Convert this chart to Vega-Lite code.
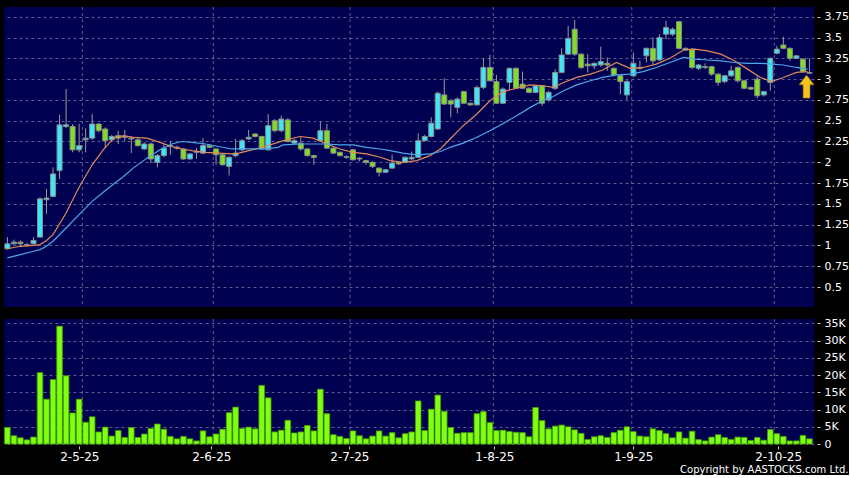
{
  "$schema": "https://vega.github.io/schema/vega-lite/v6.json",
  "background": "#000000",
  "padding": {"left": 4, "top": 6, "right": 0, "bottom": 0},
  "spacing": 9,
  "title": {"text": "Copyright by AASTOCKS.com Ltd.", "orient": "bottom", "anchor": "end", "font": "DejaVu Sans", "fontSize": 10, "fontWeight": "normal", "color": "#ffffff", "offset": 3},
  "config": {
    "view": {"fill": "#000050", "stroke": null},
    "axis": {"gridColor": "#7a7aa8", "gridDash": [3, 3], "gridOpacity": 0.75, "labelColor": "#ffffff", "labelFont": "DejaVu Sans", "tickColor": "#c8c8c8", "domain": false, "title": null}
  },
  "datasets": {
    "bars": [
      {"i":1,"o":0.96,"h":1.10,"l":0.95,"c":1.02,"v":4800},
      {"i":2,"o":1.02,"h":1.07,"l":1.01,"c":1.04,"v":2400},
      {"i":3,"o":1.04,"h":1.06,"l":1.00,"c":1.02,"v":1800},
      {"i":4,"o":1.01,"h":1.03,"l":0.99,"c":1.00,"v":1200},
      {"i":5,"o":1.02,"h":1.10,"l":1.01,"c":1.06,"v":2000},
      {"i":6,"o":1.10,"h":1.58,"l":1.10,"c":1.56,"v":20700},
      {"i":7,"o":1.55,"h":1.68,"l":1.38,"c":1.57,"v":13000},
      {"i":8,"o":1.59,"h":1.94,"l":1.58,"c":1.86,"v":18700},
      {"i":9,"o":1.90,"h":2.57,"l":1.80,"c":2.45,"v":34200},
      {"i":10,"o":2.43,"h":2.88,"l":2.41,"c":2.45,"v":19800},
      {"i":11,"o":2.43,"h":2.46,"l":2.12,"c":2.15,"v":9000},
      {"i":12,"o":2.15,"h":2.46,"l":2.12,"c":2.20,"v":13000},
      {"i":13,"o":2.27,"h":2.41,"l":2.12,"c":2.29,"v":6300},
      {"i":14,"o":2.29,"h":2.58,"l":2.27,"c":2.46,"v":7900},
      {"i":15,"o":2.46,"h":2.47,"l":2.36,"c":2.38,"v":3500},
      {"i":16,"o":2.40,"h":2.42,"l":2.17,"c":2.26,"v":4900},
      {"i":17,"o":2.27,"h":2.33,"l":2.25,"c":2.31,"v":2300},
      {"i":18,"o":2.32,"h":2.38,"l":2.22,"c":2.29,"v":3900},
      {"i":19,"o":2.31,"h":2.39,"l":2.25,"c":2.30,"v":1900},
      {"i":20,"o":2.29,"h":2.31,"l":2.11,"c":2.28,"v":4800},
      {"i":21,"o":2.27,"h":2.29,"l":2.19,"c":2.20,"v":1900},
      {"i":22,"o":2.16,"h":2.24,"l":2.15,"c":2.22,"v":2900},
      {"i":23,"o":2.22,"h":2.24,"l":1.99,"c":2.04,"v":4500},
      {"i":24,"o":2.00,"h":2.10,"l":1.94,"c":2.08,"v":5800},
      {"i":25,"o":2.08,"h":2.22,"l":2.06,"c":2.17,"v":4300},
      {"i":26,"o":2.19,"h":2.25,"l":2.09,"c":2.20,"v":2200},
      {"i":27,"o":2.18,"h":2.20,"l":2.15,"c":2.17,"v":1500},
      {"i":28,"o":2.16,"h":2.17,"l":2.03,"c":2.04,"v":2200},
      {"i":29,"o":2.04,"h":2.11,"l":2.03,"c":2.10,"v":1500},
      {"i":30,"o":2.12,"h":2.17,"l":2.04,"c":2.13,"v":900},
      {"i":31,"o":2.11,"h":2.29,"l":2.10,"c":2.20,"v":3800},
      {"i":32,"o":2.20,"h":2.22,"l":2.17,"c":2.18,"v":2100},
      {"i":33,"o":2.16,"h":2.17,"l":1.97,"c":2.09,"v":2900},
      {"i":34,"o":2.09,"h":2.10,"l":1.96,"c":1.97,"v":4300},
      {"i":35,"o":1.95,"h":2.07,"l":1.84,"c":2.06,"v":9100},
      {"i":36,"o":2.08,"h":2.28,"l":2.06,"c":2.11,"v":10700},
      {"i":37,"o":2.15,"h":2.28,"l":2.13,"c":2.26,"v":4500},
      {"i":38,"o":2.28,"h":2.39,"l":2.27,"c":2.30,"v":4900},
      {"i":39,"o":2.34,"h":2.35,"l":2.30,"c":2.31,"v":4400},
      {"i":40,"o":2.31,"h":2.32,"l":2.15,"c":2.16,"v":17000},
      {"i":41,"o":2.15,"h":2.58,"l":2.14,"c":2.44,"v":13400},
      {"i":42,"o":2.50,"h":2.52,"l":2.36,"c":2.38,"v":3500},
      {"i":43,"o":2.38,"h":2.56,"l":2.36,"c":2.52,"v":4000},
      {"i":44,"o":2.51,"h":2.53,"l":2.24,"c":2.25,"v":6900},
      {"i":45,"o":2.23,"h":2.28,"l":2.22,"c":2.26,"v":3200},
      {"i":46,"o":2.23,"h":2.30,"l":2.14,"c":2.16,"v":3500},
      {"i":47,"o":2.16,"h":2.17,"l":2.07,"c":2.08,"v":5400},
      {"i":48,"o":2.08,"h":2.09,"l":1.97,"c":2.06,"v":3800},
      {"i":49,"o":2.26,"h":2.49,"l":2.25,"c":2.38,"v":15900},
      {"i":50,"o":2.38,"h":2.46,"l":2.16,"c":2.17,"v":8800},
      {"i":51,"o":2.17,"h":2.18,"l":2.10,"c":2.11,"v":2700},
      {"i":52,"o":2.12,"h":2.13,"l":2.07,"c":2.08,"v":2200},
      {"i":53,"o":2.07,"h":2.08,"l":2.04,"c":2.06,"v":1600},
      {"i":54,"o":2.15,"h":2.16,"l":2.02,"c":2.03,"v":3800},
      {"i":55,"o":2.05,"h":2.06,"l":2.01,"c":2.04,"v":2400},
      {"i":56,"o":2.02,"h":2.03,"l":1.97,"c":2.00,"v":1500},
      {"i":57,"o":2.00,"h":2.01,"l":1.93,"c":1.95,"v":2300},
      {"i":58,"o":1.93,"h":1.94,"l":1.83,"c":1.88,"v":3800},
      {"i":59,"o":1.88,"h":1.92,"l":1.87,"c":1.91,"v":2300},
      {"i":60,"o":1.93,"h":2.09,"l":1.92,"c":1.99,"v":3300},
      {"i":61,"o":2.00,"h":2.01,"l":1.97,"c":1.98,"v":1800},
      {"i":62,"o":2.00,"h":2.07,"l":1.99,"c":2.06,"v":3000},
      {"i":63,"o":2.04,"h":2.13,"l":2.03,"c":2.06,"v":3500},
      {"i":64,"o":2.06,"h":2.35,"l":2.05,"c":2.26,"v":12500},
      {"i":65,"o":2.26,"h":2.33,"l":2.25,"c":2.31,"v":3900},
      {"i":66,"o":2.31,"h":2.54,"l":2.30,"c":2.47,"v":10100},
      {"i":67,"o":2.40,"h":2.85,"l":2.39,"c":2.83,"v":14200},
      {"i":68,"o":2.81,"h":3.01,"l":2.69,"c":2.70,"v":9500},
      {"i":69,"o":2.74,"h":2.76,"l":2.54,"c":2.70,"v":4800},
      {"i":70,"o":2.66,"h":2.78,"l":2.59,"c":2.76,"v":3100},
      {"i":71,"o":2.85,"h":2.86,"l":2.70,"c":2.71,"v":3300},
      {"i":72,"o":2.71,"h":2.72,"l":2.68,"c":2.69,"v":3300},
      {"i":73,"o":2.69,"h":2.92,"l":2.68,"c":2.90,"v":8800},
      {"i":74,"o":2.90,"h":3.25,"l":2.88,"c":3.14,"v":9400},
      {"i":75,"o":3.14,"h":3.29,"l":2.97,"c":2.98,"v":6200},
      {"i":76,"o":2.97,"h":3.05,"l":2.70,"c":2.71,"v":3900},
      {"i":77,"o":2.71,"h":2.90,"l":2.70,"c":2.88,"v":4000},
      {"i":78,"o":2.96,"h":3.14,"l":2.87,"c":3.13,"v":3600},
      {"i":79,"o":3.13,"h":3.14,"l":2.88,"c":2.89,"v":3400},
      {"i":80,"o":2.94,"h":3.09,"l":2.88,"c":2.89,"v":3300},
      {"i":81,"o":2.89,"h":2.90,"l":2.83,"c":2.84,"v":2100},
      {"i":82,"o":2.84,"h":2.93,"l":2.83,"c":2.92,"v":10600},
      {"i":83,"o":2.92,"h":2.93,"l":2.68,"c":2.71,"v":6800},
      {"i":84,"o":2.75,"h":2.86,"l":2.73,"c":2.84,"v":4400},
      {"i":85,"o":2.89,"h":3.12,"l":2.87,"c":3.08,"v":5200},
      {"i":86,"o":3.08,"h":3.37,"l":3.07,"c":3.29,"v":5500},
      {"i":87,"o":3.30,"h":3.64,"l":3.29,"c":3.49,"v":5000},
      {"i":88,"o":3.60,"h":3.71,"l":3.28,"c":3.30,"v":4100},
      {"i":89,"o":3.30,"h":3.31,"l":3.12,"c":3.14,"v":3100},
      {"i":90,"o":3.18,"h":3.30,"l":3.08,"c":3.16,"v":1300},
      {"i":91,"o":3.16,"h":3.20,"l":3.12,"c":3.19,"v":2100},
      {"i":92,"o":3.17,"h":3.39,"l":3.15,"c":3.21,"v":2400},
      {"i":93,"o":3.19,"h":3.26,"l":3.10,"c":3.17,"v":1900},
      {"i":94,"o":3.13,"h":3.14,"l":3.03,"c":3.05,"v":3300},
      {"i":95,"o":3.04,"h":3.05,"l":2.82,"c":2.97,"v":4000},
      {"i":96,"o":2.81,"h":2.99,"l":2.75,"c":2.97,"v":5000},
      {"i":97,"o":3.04,"h":3.32,"l":3.02,"c":3.19,"v":3600},
      {"i":98,"o":3.13,"h":3.22,"l":3.11,"c":3.14,"v":2300},
      {"i":99,"o":3.28,"h":3.38,"l":3.20,"c":3.37,"v":2100},
      {"i":100,"o":3.37,"h":3.50,"l":3.18,"c":3.22,"v":4400},
      {"i":101,"o":3.23,"h":3.54,"l":3.22,"c":3.50,"v":3900},
      {"i":102,"o":3.54,"h":3.70,"l":3.48,"c":3.62,"v":3000},
      {"i":103,"o":3.54,"h":3.62,"l":3.52,"c":3.60,"v":1800},
      {"i":104,"o":3.69,"h":3.70,"l":3.36,"c":3.37,"v":3500},
      {"i":105,"o":3.35,"h":3.38,"l":3.34,"c":3.37,"v":1700},
      {"i":106,"o":3.36,"h":3.37,"l":3.12,"c":3.14,"v":3700},
      {"i":107,"o":3.13,"h":3.18,"l":3.11,"c":3.17,"v":1300},
      {"i":108,"o":3.15,"h":3.19,"l":3.12,"c":3.14,"v":900},
      {"i":109,"o":3.15,"h":3.16,"l":3.04,"c":3.06,"v":2000},
      {"i":110,"o":3.06,"h":3.07,"l":2.92,"c":2.96,"v":2700},
      {"i":111,"o":2.97,"h":3.05,"l":2.95,"c":3.04,"v":1900},
      {"i":112,"o":3.04,"h":3.16,"l":3.03,"c":3.10,"v":1300},
      {"i":113,"o":3.14,"h":3.15,"l":2.96,"c":2.98,"v":2000},
      {"i":114,"o":2.98,"h":2.99,"l":2.88,"c":2.89,"v":1900},
      {"i":115,"o":2.90,"h":2.91,"l":2.87,"c":2.88,"v":1000},
      {"i":116,"o":3.00,"h":3.04,"l":2.77,"c":2.80,"v":1900},
      {"i":117,"o":2.81,"h":2.86,"l":2.79,"c":2.85,"v":1100},
      {"i":118,"o":2.96,"h":3.26,"l":2.86,"c":3.25,"v":4200},
      {"i":119,"o":3.31,"h":3.40,"l":3.30,"c":3.36,"v":3000},
      {"i":120,"o":3.41,"h":3.51,"l":3.36,"c":3.37,"v":2200},
      {"i":121,"o":3.37,"h":3.38,"l":3.22,"c":3.25,"v":900},
      {"i":122,"o":3.25,"h":3.29,"l":3.24,"c":3.28,"v":900},
      {"i":123,"o":3.24,"h":3.25,"l":3.08,"c":3.09,"v":2500},
      {"i":124,"o":3.08,"h":3.25,"l":3.07,"c":3.07,"v":1500}
    ],
    "ma": [
      {"i":1,"a":0.96,"b":0.85},{"i":3,"a":0.99,"b":0.89},{"i":5,"a":1.00,"b":0.93},{"i":6,"a":1.01,"b":0.95},
      {"i":7,"a":1.06,"b":0.99},{"i":8,"a":1.13,"b":1.05},{"i":10,"a":1.39,"b":1.21},{"i":12,"a":1.70,"b":1.37},
      {"i":14,"a":1.97,"b":1.53},{"i":15.7,"a":2.15,"b":1.64},{"i":17.3,"a":2.29,"b":1.74},{"i":18.8,"a":2.32,"b":1.83},
      {"i":20.3,"a":2.30,"b":1.93},{"i":22.4,"a":2.29,"b":2.05},{"i":24.4,"a":2.24,"b":2.15},{"i":26.2,"a":2.19,"b":2.22},
      {"i":27.8,"a":2.16,"b":2.25},{"i":29.3,"a":2.14,"b":2.24},{"i":31.4,"a":2.12,"b":2.22},{"i":33.4,"a":2.11,"b":2.19},
      {"i":35.4,"a":2.10,"b":2.16},{"i":36.5,"a":2.11,"b":2.16},{"i":38.5,"a":2.15,"b":2.16},{"i":40.5,"a":2.19,"b":2.16},
      {"i":42.5,"a":2.24,"b":2.18},{"i":43.3,"a":2.26,"b":2.21},{"i":45.9,"a":2.31,"b":2.22},{"i":47.9,"a":2.29,"b":2.22},
      {"i":50,"a":2.22,"b":2.22},{"i":52,"a":2.16,"b":2.21},{"i":54,"a":2.12,"b":2.21},{"i":56.1,"a":2.10,"b":2.18},
      {"i":58.2,"a":2.06,"b":2.16},{"i":59.7,"a":2.02,"b":2.14},{"i":61.7,"a":2.00,"b":2.11},{"i":63.8,"a":2.02,"b":2.09},
      {"i":65.8,"a":2.08,"b":2.10},{"i":67.4,"a":2.16,"b":2.13},{"i":68.9,"a":2.28,"b":2.18},{"i":70.9,"a":2.44,"b":2.23},
      {"i":73,"a":2.58,"b":2.30},{"i":75,"a":2.74,"b":2.38},{"i":77.1,"a":2.85,"b":2.47},{"i":79.1,"a":2.89,"b":2.56},
      {"i":81.2,"a":2.93,"b":2.66},{"i":83.2,"a":2.92,"b":2.745},{"i":84.7,"a":2.90,"b":2.79},{"i":86.3,"a":2.96,"b":2.86},
      {"i":88.3,"a":3.02,"b":2.93},{"i":90.4,"a":3.06,"b":2.98},{"i":92.3,"a":3.11,"b":3.02},{"i":94.4,"a":3.20,"b":3.05},
      {"i":96.5,"a":3.13,"b":3.06},{"i":98.5,"a":3.14,"b":3.09},{"i":100.5,"a":3.18,"b":3.14},{"i":102.6,"a":3.25,"b":3.20},
      {"i":104.7,"a":3.35,"b":3.26},{"i":106.4,"a":3.36,"b":3.24},{"i":108.4,"a":3.34,"b":3.23},{"i":110.4,"a":3.30,"b":3.22},
      {"i":112.5,"a":3.22,"b":3.20},{"i":114.5,"a":3.12,"b":3.19},{"i":116.5,"a":3.02,"b":3.19},{"i":118.2,"a":2.97,"b":3.18},
      {"i":120,"a":3.02,"b":3.17},{"i":122,"a":3.08,"b":3.14},{"i":123.7,"a":3.09,"b":3.12}
    ],
    "grid": [{"g":12.49},{"g":32.58},{"g":53.55},{"g":75.52},{"g":96.75},{"g":118.62}],
    "marker": [{"i":123.56,"p":2.91}]
  },
  "vconcat": [
    {
      "width": 810,
      "height": 300,
      "layer": [
        {
          "data": {"name": "grid"},
          "mark": {"type": "rule", "color": "#7a7aa8", "strokeDash": [3, 3], "opacity": 0.75, "strokeWidth": 1},
          "encoding": {"x": {"field": "g", "type": "quantitative", "scale": {"domain": [0.48, 124.7], "nice": false, "zero": false, "padding": 0}, "axis": null}}
        },
        {
          "data": {"name": "bars"},
          "mark": {"type": "rule", "color": "#9a9a9a", "strokeWidth": 1},
          "encoding": {
            "x": {"field": "i", "type": "quantitative", "scale": {"domain": [0.48, 124.7], "nice": false, "zero": false, "padding": 0}, "axis": null},
            "y": {"field": "l", "type": "quantitative", "scale": {"domain": [0.26, 3.867], "nice": false, "zero": false},
              "axis": {"orient": "right", "title": null, "values": [0.5, 0.75, 1, 1.25, 1.5, 1.75, 2, 2.25, 2.5, 2.75, 3, 3.25, 3.5, 3.75], "labelExpr": "datum.value + ''", "grid": true, "tickSize": 3, "offset": 3, "labelPadding": 4, "labelFontSize": 11}},
            "y2": {"field": "h"}
          }
        },
        {
          "data": {"name": "bars"},
          "mark": {"type": "bar", "width": 5, "stroke": "#8c8c8c", "strokeWidth": 1},
          "encoding": {
            "x": {"field": "i", "type": "quantitative", "scale": {"domain": [0.48, 124.7], "nice": false, "zero": false, "padding": 0}, "axis": null},
            "y": {"field": "o", "type": "quantitative", "scale": {"domain": [0.26, 3.867], "nice": false, "zero": false},
              "axis": {"orient": "right", "title": null, "values": [0.5, 0.75, 1, 1.25, 1.5, 1.75, 2, 2.25, 2.5, 2.75, 3, 3.25, 3.5, 3.75], "labelExpr": "datum.value + ''", "grid": true, "tickSize": 3, "offset": 3, "labelPadding": 4, "labelFontSize": 11}},
            "y2": {"field": "c"},
            "color": {"condition": [{"test": "datum.c > datum.o", "value": "#40e6f5"}, {"test": "datum.c < datum.o", "value": "#7ee020"}], "value": "#9a9a9a"}
          }
        },
        {
          "data": {"name": "ma"},
          "mark": {"type": "line", "color": "#e0895a", "strokeWidth": 1.2},
          "encoding": {
            "x": {"field": "i", "type": "quantitative", "scale": {"domain": [0.48, 124.7], "nice": false, "zero": false, "padding": 0}, "axis": null},
            "y": {"field": "a", "type": "quantitative", "scale": {"domain": [0.26, 3.867], "nice": false, "zero": false},
              "axis": {"orient": "right", "title": null, "values": [0.5, 0.75, 1, 1.25, 1.5, 1.75, 2, 2.25, 2.5, 2.75, 3, 3.25, 3.5, 3.75], "labelExpr": "datum.value + ''", "grid": true, "tickSize": 3, "offset": 3, "labelPadding": 4, "labelFontSize": 11}}
          }
        },
        {
          "data": {"name": "ma"},
          "mark": {"type": "line", "color": "#4aa8ea", "strokeWidth": 1.2},
          "encoding": {
            "x": {"field": "i", "type": "quantitative", "scale": {"domain": [0.48, 124.7], "nice": false, "zero": false, "padding": 0}, "axis": null},
            "y": {"field": "b", "type": "quantitative", "scale": {"domain": [0.26, 3.867], "nice": false, "zero": false},
              "axis": {"orient": "right", "title": null, "values": [0.5, 0.75, 1, 1.25, 1.5, 1.75, 2, 2.25, 2.5, 2.75, 3, 3.25, 3.5, 3.75], "labelExpr": "datum.value + ''", "grid": true, "tickSize": 3, "offset": 3, "labelPadding": 4, "labelFontSize": 11}}
          }
        },
        {
          "data": {"name": "marker"},
          "mark": {"type": "point", "shape": "M0,-1 L0.65,-0.15 L0.3,-0.15 L0.3,1 L-0.3,1 L-0.3,-0.15 L-0.65,-0.15 Z", "filled": true, "size": 529, "fill": "#f4c21c", "stroke": "#9a7000", "strokeWidth": 0.6, "opacity": 1},
          "encoding": {
            "x": {"field": "i", "type": "quantitative", "scale": {"domain": [0.48, 124.7], "nice": false, "zero": false, "padding": 0}, "axis": null},
            "y": {"field": "p", "type": "quantitative", "scale": {"domain": [0.26, 3.867], "nice": false, "zero": false},
              "axis": {"orient": "right", "title": null, "values": [0.5, 0.75, 1, 1.25, 1.5, 1.75, 2, 2.25, 2.5, 2.75, 3, 3.25, 3.5, 3.75], "labelExpr": "datum.value + ''", "grid": true, "tickSize": 3, "offset": 3, "labelPadding": 4, "labelFontSize": 11}}
          }
        }
      ]
    },
    {
      "width": 810,
      "height": 125,
      "layer": [
        {
          "data": {"name": "grid"},
          "mark": {"type": "rule", "color": "#7a7aa8", "strokeDash": [3, 3], "opacity": 0.75, "strokeWidth": 1},
          "encoding": {"x": {"field": "g", "type": "quantitative", "scale": {"domain": [0.48, 124.7], "nice": false, "zero": false, "padding": 0},
              "axis": {"title": null, "values": [12.03, 32.27, 53.44, 75.68, 96.99, 119.2], "labelExpr": "datum.value < 20 ? '2-5-25' : datum.value < 40 ? '2-6-25' : datum.value < 60 ? '2-7-25' : datum.value < 85 ? '1-8-25' : datum.value < 105 ? '1-9-25' : '2-10-25'", "grid": false, "tickSize": 3, "offset": 2, "labelPadding": 2, "labelFontSize": 12, "labelFlush": false}}}
        },
        {
          "data": {"name": "bars"},
          "mark": {"type": "bar", "width": 5.6, "fill": "#80ff10", "stroke": "#44a000", "strokeWidth": 0.8},
          "encoding": {
            "x": {"field": "i", "type": "quantitative", "scale": {"domain": [0.48, 124.7], "nice": false, "zero": false, "padding": 0},
              "axis": {"title": null, "values": [12.03, 32.27, 53.44, 75.68, 96.99, 119.2], "labelExpr": "datum.value < 20 ? '2-5-25' : datum.value < 40 ? '2-6-25' : datum.value < 60 ? '2-7-25' : datum.value < 85 ? '1-8-25' : datum.value < 105 ? '1-9-25' : '2-10-25'", "grid": false, "tickSize": 3, "offset": 2, "labelPadding": 2, "labelFontSize": 12, "labelFlush": false}},
            "y": {"field": "v", "type": "quantitative", "scale": {"domain": [0, 36280], "nice": false},
              "axis": {"orient": "right", "title": null, "values": [0, 5000, 10000, 15000, 20000, 25000, 30000, 35000], "labelExpr": "datum.value == 0 ? '0' : (datum.value / 1000) + 'K'", "grid": true, "tickSize": 3, "offset": 3, "labelPadding": 4, "labelFontSize": 11}}
          }
        }
      ]
    }
  ]
}
